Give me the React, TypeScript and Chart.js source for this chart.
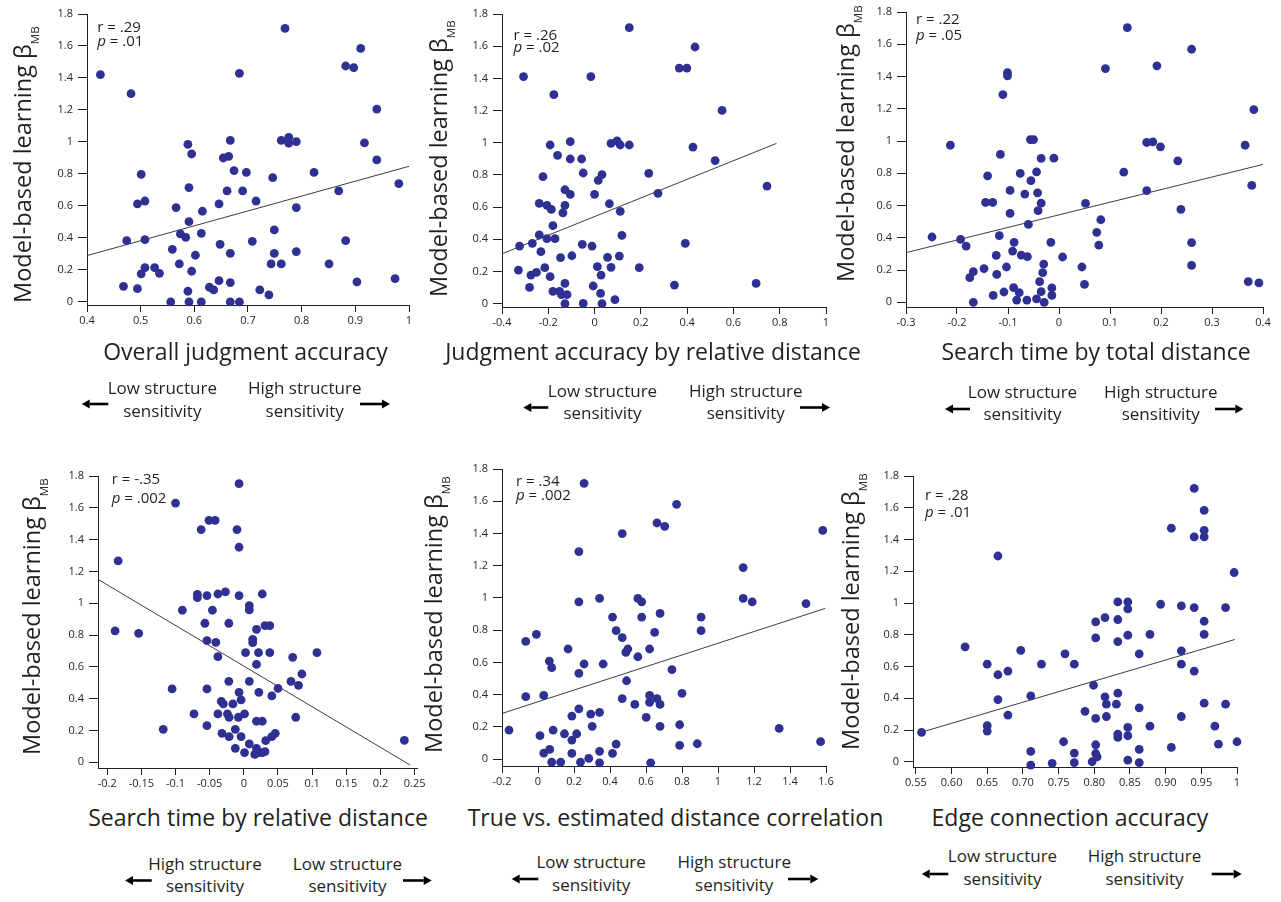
import React, { useEffect, useRef } from 'react';
import { Chart, registerables } from 'chart.js';
Chart.register(...registerables);

const FONT = "'Open Sans', 'DejaVu Sans', sans-serif";
const INK = '#231f20';
const DOT = '#2e3192';

// ---------- shared y axis ----------
const yTicks = [0, 0.2, 0.4, 0.6, 0.8, 1, 1.2, 1.4, 1.6, 1.8];
const yTickLabels = ['0', '0.2', '0.4', '0.6', '0.8', '1', '1.2', '1.4', '1.6', '1.8'];

// ---------- panel 1: Overall judgment accuracy ----------
const p1X = [0.425, 0.482, 0.468, 0.474, 0.494, 0.494, 0.501, 0.508, 0.508, 0.508, 0.501, 0.526, 0.535, 0.556, 0.559, 0.566, 0.572, 0.574, 0.584, 0.588, 0.595, 0.59, 0.59, 0.588, 0.59, 0.595, 0.602, 0.613, 0.613, 0.615, 0.628, 0.636, 0.646, 0.646, 0.648, 0.654, 0.664, 0.667, 0.661, 0.667, 0.667, 0.667, 0.674, 0.684, 0.684, 0.69, 0.697, 0.708, 0.715, 0.722, 0.739, 0.743, 0.746, 0.749, 0.749, 0.762, 0.769, 0.762, 0.776, 0.776, 0.79, 0.79, 0.79, 0.823, 0.851, 0.869, 0.882, 0.897, 0.882, 0.903, 0.91, 0.917, 0.94, 0.94, 0.974, 0.981];
const p1Y = [1.421, 1.302, 0.098, 0.383, 0.083, 0.613, 0.798, 0.631, 0.39, 0.215, 0.175, 0.215, 0.179, 0.0, 0.329, 0.59, 0.238, 0.425, 0.404, 0.985, 0.925, 0.715, 0.502, 0.067, 0.0, 0.192, 0.292, 0.0, 0.429, 0.567, 0.092, 0.075, 0.133, 0.613, 0.36, 0.9, 0.91, 1.01, 0.694, 0.304, 0.121, 0.0, 0.821, 1.429, 0.0, 0.694, 0.81, 0.379, 0.631, 0.075, 0.044, 0.238, 0.777, 0.45, 0.304, 0.238, 1.71, 1.01, 1.029, 0.992, 1.002, 0.59, 0.315, 0.81, 0.238, 0.694, 1.475, 1.465, 0.383, 0.125, 1.585, 0.994, 1.206, 0.888, 0.146, 0.74];
const p1FitX = [0.4, 1.0];
const p1FitY = [0.29, 0.848];
const p1XTicks = [0.4, 0.5, 0.6, 0.7, 0.8, 0.9, 1];
const p1XTickLabels = ['0.4', '0.5', '0.6', '0.7', '0.8', '0.9', '1'];

// ---------- panel 2: Judgment accuracy by relative distance ----------
const p2X = [-0.307, -0.176, -0.324, -0.329, -0.281, -0.275, -0.269, -0.251, -0.239, -0.239, -0.232, -0.223, -0.215, -0.206, -0.206, -0.192, -0.192, -0.187, -0.18, -0.18, -0.171, -0.16, -0.151, -0.147, -0.143, -0.137, -0.128, -0.128, -0.128, -0.128, -0.119, -0.105, -0.105, -0.105, -0.098, -0.056, -0.053, -0.049, -0.049, -0.016, -0.011, -0.006, 0.0, 0.012, 0.016, 0.028, 0.032, 0.026, 0.032, 0.056, 0.064, 0.071, 0.071, 0.088, 0.097, 0.107, 0.111, 0.111, 0.118, 0.15, 0.15, 0.193, 0.234, 0.274, 0.345, 0.366, 0.399, 0.392, 0.425, 0.434, 0.521, 0.551, 0.698, 0.745];
const p2Y = [1.411, 1.299, 0.358, 0.209, 0.101, 0.178, 0.375, 0.195, 0.623, 0.427, 0.323, 0.789, 0.224, 0.611, 0.404, 0.986, 0.168, 0.586, 0.485, 0.077, 0.404, 0.922, 0.077, 0.286, 0.056, 0.565, 0.708, 0.611, 0.126, 0.0, 0.056, 0.679, 1.007, 0.899, 0.298, 0.899, 0.369, 0.812, 0.002, 1.411, 0.358, 0.11, 0.679, 0.23, 0.766, 0.178, 0.802, 0.064, 0.0, 0.288, 0.621, 0.226, 0.996, 0.025, 1.011, 0.296, 0.574, 0.986, 0.425, 0.986, 1.715, 0.224, 0.81, 0.686, 0.116, 1.464, 1.464, 0.375, 0.973, 1.595, 0.889, 1.201, 0.126, 0.731];
const p2FitX = [-0.4, 0.786];
const p2FitY = [0.31, 0.996];
const p2XTicks = [-0.4, -0.2, 0, 0.2, 0.4, 0.6, 0.8, 1];
const p2XTickLabels = ['-0.4', '-0.2', '0', '0.2', '0.4', '0.6', '0.8', '1'];

// ---------- panel 3: Search time by total distance ----------
const p3X = [-0.249, -0.213, -0.193, -0.182, -0.175, -0.168, -0.168, -0.147, -0.144, -0.14, -0.13, -0.129, -0.123, -0.122, -0.117, -0.115, -0.11, -0.108, -0.103, -0.101, -0.101, -0.096, -0.096, -0.091, -0.089, -0.088, -0.083, -0.078, -0.076, -0.074, -0.067, -0.063, -0.062, -0.06, -0.055, -0.056, -0.05, -0.044, -0.044, -0.042, -0.041, -0.038, -0.035, -0.035, -0.035, -0.032, -0.03, -0.029, -0.016, -0.014, -0.014, -0.01, 0.007, 0.045, 0.05, 0.052, 0.074, 0.078, 0.082, 0.091, 0.127, 0.134, 0.172, 0.172, 0.184, 0.192, 0.199, 0.233, 0.239, 0.26, 0.26, 0.26, 0.365, 0.371, 0.378, 0.382, 0.392];
const p3Y = [0.405, 0.974, 0.39, 0.349, 0.153, 0.19, 0.0, 0.209, 0.619, 0.784, 0.619, 0.043, 0.291, 0.173, 0.413, 0.917, 1.288, 0.064, 0.219, 1.424, 1.404, 0.694, 0.551, 0.318, 0.091, 0.372, 0.014, 0.06, 0.799, 0.293, 0.671, 0.014, 0.283, 0.483, 0.754, 1.009, 1.009, 0.809, 0.021, 0.679, 0.568, 0.128, 0.892, 0.615, 0.066, 0.184, 0.237, 0.0, 0.372, 0.089, 0.043, 0.894, 0.281, 0.219, 0.111, 0.613, 0.434, 0.355, 0.512, 1.449, 0.807, 1.703, 0.991, 0.692, 0.995, 1.466, 0.964, 0.877, 0.576, 1.569, 0.37, 0.229, 0.974, 0.128, 0.725, 1.195, 0.12];
const p3FitX = [-0.3, 0.4];
const p3FitY = [0.308, 0.855];
const p3XTicks = [-0.3, -0.2, -0.1, 0, 0.1, 0.2, 0.3, 0.4];
const p3XTickLabels = ['-0.3', '-0.2', '-0.1', '0', '0.1', '0.2', '0.3', '0.4'];

// ---------- panel 4: Search time by relative distance ----------
const p4X = [-0.1885, -0.184, -0.154, -0.118, -0.105, -0.1, -0.09, -0.073, -0.068, -0.068, -0.0625, -0.057, -0.054, -0.054, -0.054, -0.054, -0.051, -0.046, -0.042, -0.041, -0.038, -0.038, -0.038, -0.033, -0.032, -0.03, -0.027, -0.024, -0.022, -0.022, -0.0215, -0.0215, -0.016, -0.0125, -0.0125, -0.01, -0.007, -0.007, -0.007, -0.007, -0.008, -0.004, -0.004, 0.001, 0.001, 0.0025, 0.008, 0.008, 0.008, 0.008, 0.013, 0.013, 0.016, 0.0185, 0.0185, 0.0185, 0.0185, 0.0215, 0.022, 0.022, 0.027, 0.027, 0.027, 0.031, 0.031, 0.032, 0.038, 0.038, 0.041, 0.041, 0.046, 0.05, 0.069, 0.0715, 0.076, 0.08, 0.085, 0.107, 0.235];
const p4Y = [0.826, 1.266, 0.811, 0.207, 0.461, 1.63, 0.956, 0.304, 1.056, 1.035, 1.463, 0.874, 1.048, 0.765, 0.461, 0.231, 1.521, 0.956, 1.521, 0.754, 1.058, 0.664, 0.304, 0.383, 0.182, 0.367, 1.071, 0.304, 0.874, 0.509, 0.283, 0.161, 0.367, 0.207, 0.088, 1.463, 1.752, 1.352, 1.048, 0.44, 0.283, 0.392, 0.161, 0.304, 0.061, 0.689, 0.985, 0.958, 0.509, 0.115, 0.773, 0.752, 0.05, 0.836, 0.616, 0.258, 0.088, 0.689, 0.44, 0.061, 1.058, 0.258, 0.061, 0.859, 0.067, 0.136, 0.859, 0.689, 0.417, 0.161, 0.182, 0.465, 0.509, 0.66, 0.283, 0.484, 0.555, 0.689, 0.138];
const p4FitX = [-0.2135, 0.2434];
const p4FitY = [1.15, -0.017];
const p4XTicks = [-0.2, -0.15, -0.1, -0.05, 0, 0.05, 0.1, 0.15, 0.2, 0.25];
const p4XTickLabels = ['-0.2', '-0.15', '-0.1', '-0.05', '0', '0.05', '0.1', '0.15', '0.2', '0.25'];

// ---------- panel 5: True vs. estimated distance correlation ----------
const p5X = [-0.161, -0.068, -0.068, -0.009, 0.011, 0.032, 0.032, 0.063, 0.065, 0.076, 0.076, 0.084, 0.126, 0.147, 0.167, 0.188, 0.188, 0.188, 0.215, 0.227, 0.227, 0.227, 0.227, 0.236, 0.256, 0.256, 0.282, 0.293, 0.301, 0.342, 0.342, 0.342, 0.342, 0.362, 0.414, 0.414, 0.434, 0.434, 0.468, 0.468, 0.468, 0.488, 0.492, 0.499, 0.538, 0.555, 0.555, 0.576, 0.576, 0.601, 0.62, 0.62, 0.62, 0.626, 0.648, 0.661, 0.661, 0.678, 0.678, 0.678, 0.704, 0.744, 0.77, 0.787, 0.787, 0.8, 0.885, 0.906, 0.906, 1.14, 1.14, 1.19, 1.34, 1.489, 1.57, 1.582];
const p5Y = [0.18, 0.73, 0.387, 0.774, 0.145, 0.037, 0.395, 0.608, 0.06, 0.567, -0.019, 0.18, -0.019, 0.157, 0.683, 0.267, 0.118, 0.035, 0.157, 1.287, 0.975, 0.532, 0.312, -0.019, 1.711, 0.59, 0.004, 0.279, 0.203, 0.997, 0.29, 0.048, -0.023, 0.59, 0.881, 0.035, 0.797, 0.093, 1.399, 0.753, 0.375, 0.662, 0.486, 0.683, 0.339, 0.997, 0.635, 0.975, 0.881, 0.259, 0.683, 0.395, 0.352, -0.023, 0.786, 1.465, 0.375, 0.904, 0.203, 0.339, 1.444, 0.555, 1.581, 0.213, 0.085, 0.408, 0.095, 0.881, 0.797, 1.188, 0.997, 0.975, 0.19, 0.964, 0.108, 1.419];
const p5FitX = [-0.2, 1.596];
const p5FitY = [0.283, 0.935];
const p5XTicks = [-0.2, 0, 0.2, 0.4, 0.6, 0.8, 1, 1.2, 1.4, 1.6];
const p5XTickLabels = ['-0.2', '0', '0.2', '0.4', '0.6', '0.8', '1', '1.2', '1.4', '1.6'];

// ---------- panel 6: Edge connection accuracy ----------
const p6X = [0.558, 0.619, 0.65, 0.65, 0.65, 0.665, 0.665, 0.665, 0.679, 0.679, 0.697, 0.711, 0.711, 0.711, 0.726, 0.741, 0.757, 0.759, 0.772, 0.772, 0.772, 0.787, 0.797, 0.799, 0.802, 0.802, 0.802, 0.802, 0.802, 0.804, 0.815, 0.815, 0.817, 0.817, 0.831, 0.833, 0.833, 0.833, 0.833, 0.833, 0.833, 0.847, 0.847, 0.847, 0.847, 0.847, 0.847, 0.863, 0.863, 0.863, 0.863, 0.878, 0.878, 0.893, 0.908, 0.908, 0.922, 0.922, 0.922, 0.922, 0.94, 0.94, 0.94, 0.94, 0.954, 0.954, 0.954, 0.954, 0.954, 0.954, 0.969, 0.974, 0.984, 0.984, 0.996, 1.0];
const p6Y = [0.185, 0.724, 0.615, 0.227, 0.193, 1.296, 0.548, 0.392, 0.571, 0.294, 0.701, 0.415, 0.065, -0.021, 0.615, -0.01, 0.126, 0.68, 0.615, 0.055, -0.006, 0.317, 0.0, 0.482, 0.881, 0.78, 0.273, 0.107, 0.052, 0.031, 0.908, 0.409, 0.363, 0.285, 0.363, 1.007, 0.896, 0.757, 0.432, 0.174, 0.153, 1.007, 0.963, 0.797, 0.216, 0.164, 0.01, 0.68, 0.34, 0.078, -0.006, 0.803, 0.224, 0.992, 1.471, 0.09, 0.982, 0.699, 0.615, 0.285, 1.722, 1.416, 0.971, 0.571, 1.584, 1.458, 1.416, 0.885, 0.803, 0.369, 0.224, 0.111, 0.971, 0.363, 1.192, 0.126];
const p6FitX = [0.5585, 0.997];
const p6FitY = [0.187, 0.77];
const p6XTicks = [0.55, 0.6, 0.65, 0.7, 0.75, 0.8, 0.85, 0.9, 0.95, 1];
const p6XTickLabels = ['0.55', '0.60', '0.65', '0.70', '0.75', '0.80', '0.85', '0.90', '0.95', '1'];

// ---------- layout ----------
const WY = 60; // y-axis box width
const HX = 30; // x-axis box height
const PADT = 12;
const PADR = 16;

type PanelCfg = {
  xs: number[]; ys: number[]; fitX: number[]; fitY: number[];
  xTicks: number[]; xLabels: string[];
  xMin: number; xMax: number; yMin: number;
  L: number; R: number; T: number; B: number;
};

const PANELS: PanelCfg[] = [
  { xs: p1X, ys: p1Y, fitX: p1FitX, fitY: p1FitY, xTicks: p1XTicks, xLabels: p1XTickLabels, xMin: 0.4, xMax: 1.0, yMin: -0.019, L: 87, R: 409, T: 14, B: 305 },
  { xs: p2X, ys: p2Y, fitX: p2FitX, fitY: p2FitY, xTicks: p2XTicks, xLabels: p2XTickLabels, xMin: -0.4, xMax: 1.0, yMin: -0.0205, L: 502, R: 826, T: 14, B: 307 },
  { xs: p3X, ys: p3Y, fitX: p3FitX, fitY: p3FitY, xTicks: p3XTicks, xLabels: p3XTickLabels, xMin: -0.3, xMax: 0.4, yMin: -0.029, L: 906, R: 1263, T: 12, B: 307 },
  { xs: p4X, ys: p4Y, fitX: p4FitX, fitY: p4FitY, xTicks: p4XTicks, xLabels: p4XTickLabels, xMin: -0.2135, xMax: 0.2535, yMin: -0.036, L: 98, R: 417, T: 476, B: 768 },
  { xs: p5X, ys: p5Y, fitX: p5FitX, fitY: p5FitY, xTicks: p5XTicks, xLabels: p5XTickLabels, xMin: -0.2, xMax: 1.6, yMin: -0.043, L: 502, R: 826, T: 469, B: 766 },
  { xs: p6X, ys: p6Y, fitX: p6FitX, fitY: p6FitY, xTicks: p6XTicks, xLabels: p6XTickLabels, xMin: 0.546, xMax: 1.0, yMin: -0.033, L: 913, R: 1237, T: 476, B: 767 },
];

function ScatterPanel({ cfg }: { cfg: PanelCfg }) {
  const ref = useRef<HTMLCanvasElement | null>(null);
  const w = cfg.R - cfg.L + WY + PADR;
  const h = cfg.B - cfg.T + PADT + HX;
  useEffect(() => {
    if (!ref.current) return;
    const pts = cfg.xs.map((x, i) => ({ x, y: cfg.ys[i] }));
    const fit = cfg.fitX.map((x, i) => ({ x, y: cfg.fitY[i] }));
    const chart = new Chart(ref.current, {
      type: 'scatter',
      data: {
        datasets: [
          { type: 'scatter', data: pts, backgroundColor: DOT, borderWidth: 0, pointRadius: 4.4, pointHoverRadius: 4.4, clip: false } as any,
          { type: 'line', data: fit, borderColor: '#3c3c3c', borderWidth: 1, pointRadius: 0, fill: false, clip: false, tension: 0 } as any,
        ],
      },
      options: {
        animation: false,
        responsive: false,
        maintainAspectRatio: false,
        events: [],
        layout: { padding: { top: PADT, right: PADR, left: 0, bottom: 0 } },
        plugins: { legend: { display: false }, tooltip: { enabled: false }, title: { display: false } },
        scales: {
          x: {
            type: 'linear',
            min: cfg.xMin,
            max: cfg.xMax,
            afterBuildTicks: (s: any) => { s.ticks = cfg.xTicks.map((v) => ({ value: v })); },
            afterFit: (s: any) => { s.height = HX; },
            grid: { display: true, drawOnChartArea: false, drawTicks: true, tickLength: 7, color: INK, lineWidth: 1 },
            border: { display: true, color: INK, width: 1 },
            ticks: {
              autoSkip: false, maxRotation: 0, minRotation: 0, padding: 2, color: INK,
              font: { family: FONT, size: 11 },
              callback: (_v: any, i: number) => cfg.xLabels[i],
            },
          },
          y: {
            type: 'linear',
            min: cfg.yMin,
            max: 1.8,
            afterBuildTicks: (s: any) => { s.ticks = yTicks.map((v) => ({ value: v })); },
            afterFit: (s: any) => { s.width = WY; },
            grid: { display: true, drawOnChartArea: false, drawTicks: true, tickLength: 9, color: INK, lineWidth: 1 },
            border: { display: true, color: INK, width: 1 },
            ticks: {
              autoSkip: false, padding: 5, color: INK,
              font: { family: FONT, size: 11 },
              callback: (_v: any, i: number) => yTickLabels[i],
            },
          },
        },
      } as any,
    });
    return () => chart.destroy();
  }, []);
  return (
    <canvas
      ref={ref}
      width={w}
      height={h}
      style={{ position: 'absolute', left: cfg.L - WY, top: cfg.T - PADT, width: w, height: h }}
    />
  );
}

const ASC = 0.888; // Open Sans baseline offset with line-height = font-size

function Txt({ x, y, size, align = 'left', children }: any) {
  const style: any = {
    position: 'absolute', top: y - ASC * size, fontSize: size, lineHeight: `${size}px`,
    whiteSpace: 'nowrap', fontFamily: FONT, color: INK,
  };
  if (align === 'center') { style.left = x - 300; style.width = 600; style.textAlign = 'center'; }
  else style.left = x;
  return <div style={style}>{children}</div>;
}

function YTitle({ x, y }: { x: number; y: number }) {
  const size = 23.5;
  return (
    <div style={{
      position: 'absolute', left: x - ASC * size, top: y, transformOrigin: '0 0', transform: 'rotate(-90deg)',
      fontSize: size, lineHeight: `${size}px`, whiteSpace: 'nowrap', fontFamily: FONT, color: INK,
    }}>
      Model-based learning β<span style={{ fontSize: 11.5, verticalAlign: '-8px', lineHeight: 0 }}>MB</span>
    </div>
  );
}

type TextSet = {
  title: string; titleX: number; titleY: number;
  yTitleX: number; yTitleY: number;
  r: string; p: string; annX: number; rY: number; pY: number;
  leftTop: string; rightTop: string; leftX: number; rightX: number; lblY: number;
  arrL: [number, number]; arrR: [number, number]; arrY: number;
};

const TEXTS: TextSet[] = [
  { title: 'Overall judgment accuracy', titleX: 245.5, titleY: 360, yTitleX: 32.3, yTitleY: 303,
    r: 'r = .29', p: ' = .01', annX: 97.3, rY: 32.7, pY: 46.7,
    leftTop: 'Low structure', rightTop: 'High structure', leftX: 162.3, rightX: 304.7, lblY: 394.3,
    arrL: [108.3, 81.7], arrR: [360, 390], arrY: 404 },
  { title: 'Judgment accuracy by relative distance', titleX: 653, titleY: 360, yTitleX: 448.3, yTitleY: 297,
    r: 'r = .26', p: ' = .02', annX: 513.5, rY: 40, pY: 52.7,
    leftTop: 'Low structure', rightTop: 'High structure', leftX: 602.5, rightX: 745.8, lblY: 396.7,
    arrL: [548.3, 523.3], arrR: [800, 830], arrY: 407.5 },
  { title: 'Search time by total distance', titleX: 1096, titleY: 360, yTitleX: 855, yTitleY: 282,
    r: 'r = .22', p: ' = .05', annX: 916, rY: 24, pY: 40,
    leftTop: 'Low structure', rightTop: 'High structure', leftX: 1022.5, rightX: 1160.8, lblY: 397.7,
    arrL: [970, 945], arrR: [1215, 1243.3], arrY: 409 },
  { title: 'Search time by relative distance', titleX: 258, titleY: 826.7, yTitleX: 40.7, yTitleY: 755,
    r: 'r = -.35', p: ' = .002', annX: 111.7, rY: 484, pY: 503.3,
    leftTop: 'High structure', rightTop: 'Low structure', leftX: 205, rightX: 347.5, lblY: 870,
    arrL: [151.7, 125], arrR: [403, 431.7], arrY: 880.5 },
  { title: 'True vs. estimated distance correlation', titleX: 675.5, titleY: 826.7, yTitleX: 443.3, yTitleY: 753,
    r: 'r = .34', p: ' = .002', annX: 516, rY: 486, pY: 500,
    leftTop: 'Low structure', rightTop: 'High structure', leftX: 591.2, rightX: 734.2, lblY: 868.3,
    arrL: [538.3, 511.7], arrR: [788, 818.3], arrY: 879 },
  { title: 'Edge connection accuracy', titleX: 1070, titleY: 826.7, yTitleX: 860, yTitleY: 750,
    r: 'r = .28', p: ' = .01', annX: 925, rY: 500.7, pY: 517.3,
    leftTop: 'Low structure', rightTop: 'High structure', leftX: 1002.5, rightX: 1144.5, lblY: 862.3,
    arrL: [948.3, 921.7], arrR: [1211.7, 1241.7], arrY: 874 },
];

function arrowPath(tail: number, head: number, y: number) {
  const dir = head > tail ? 1 : -1;
  const hl = 8, hw = 4.6;
  const base = head - dir * hl;
  return {
    line: `M${tail},${y} L${base},${y}`,
    head: `M${head},${y} L${base},${y - hw} L${base},${y + hw} Z`,
  };
}

export default function App() {
  return (
    <div style={{ position: 'absolute', left: 0, top: 0, width: 1281, height: 902, background: '#fff', overflow: 'hidden' }}>
      {PANELS.map((p, i) => <ScatterPanel key={i} cfg={p} />)}
      {TEXTS.map((t, i) => (
        <React.Fragment key={i}>
          <Txt x={t.titleX} y={t.titleY} size={23} align="center">{t.title}</Txt>
          <YTitle x={t.yTitleX} y={t.yTitleY} />
          <Txt x={t.annX} y={t.rY} size={15}>{t.r}</Txt>
          <Txt x={t.annX} y={t.pY} size={15}><i>p</i>{t.p}</Txt>
          <Txt x={t.leftX} y={t.lblY} size={17} align="center">{t.leftTop}</Txt>
          <Txt x={t.leftX} y={t.lblY + 22.5} size={17} align="center">sensitivity</Txt>
          <Txt x={t.rightX} y={t.lblY} size={17} align="center">{t.rightTop}</Txt>
          <Txt x={t.rightX} y={t.lblY + 22.5} size={17} align="center">sensitivity</Txt>
        </React.Fragment>
      ))}
      <svg width={1281} height={902} style={{ position: 'absolute', left: 0, top: 0, pointerEvents: 'none' }}>
        {TEXTS.map((t, i) => {
          const a = arrowPath(t.arrL[0], t.arrL[1], t.arrY);
          const b = arrowPath(t.arrR[0], t.arrR[1], t.arrY);
          return (
            <g key={i}>
              <path d={a.line} stroke="#000" strokeWidth={2.6} fill="none" />
              <path d={a.head} fill="#000" />
              <path d={b.line} stroke="#000" strokeWidth={2.6} fill="none" />
              <path d={b.head} fill="#000" />
            </g>
          );
        })}
      </svg>
    </div>
  );
}
